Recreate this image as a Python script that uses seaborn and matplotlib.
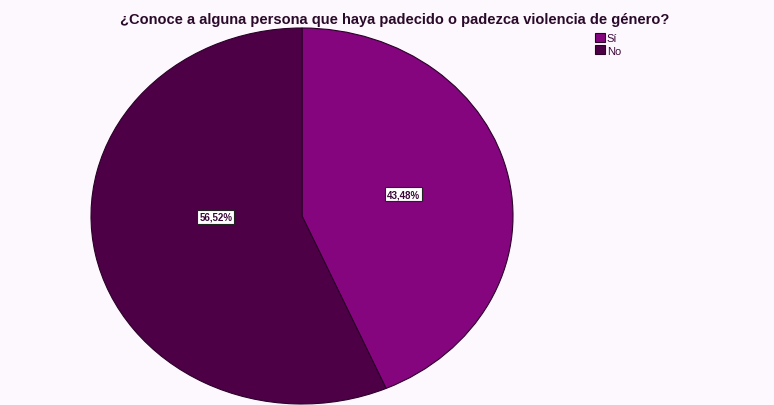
import matplotlib
matplotlib.use("Agg")
import matplotlib.pyplot as plt
import seaborn as sns

categories = ["Sí", "No"]
values = [43.48, 56.52]
labels_txt = ["43,48%", "56,52%"]
colors = ["#85057F", "#4E0047"]

sns.set_style("white")
plt.rcParams['font.family'] = ['Liberation Sans', 'DejaVu Sans']

bg = "#FDF8FD"
fig = plt.figure(figsize=(7.74, 4.06), dpi=100, facecolor=bg)
ax = fig.add_axes([91/774, 1/406, 422/774, 376/406])
ax.set_facecolor(bg)

wedges, _ = ax.pie(values, colors=colors, startangle=90, counterclock=False,
                   wedgeprops=dict(edgecolor="#2a0028", linewidth=0.8))
ax.set_aspect('auto')
ax.set_xlim(-1, 1)
ax.set_ylim(-1, 1)
ax.axis('off')

label_pos = [(0.483, 0.117), (-0.408, -0.005)]
for txt, (x, y) in zip(labels_txt, label_pos):
    ax.text(x, y, txt, ha='center', va='center', fontsize=7, fontweight='bold',
            color="#3a0838",
            bbox=dict(boxstyle='square,pad=0.2', facecolor='white',
                      edgecolor='#222222', linewidth=0.8))

fig.text(395/774, 1 - 20/406, "¿Conoce a alguna persona que haya padecido o padezca violencia de género?",
         ha='center', va='center', fontsize=10.5, fontweight='bold', color="#2a0a2a")

fig.legend(wedges, categories, loc='upper left', bbox_to_anchor=(589/774, 1 - 28/406),
           frameon=False, fontsize=8, handlelength=0.9, handleheight=0.9,
           handletextpad=0.2, labelspacing=0.2, borderpad=0, labelcolor="#3a0838")

fig.savefig("out.png", dpi=100, facecolor=bg)
